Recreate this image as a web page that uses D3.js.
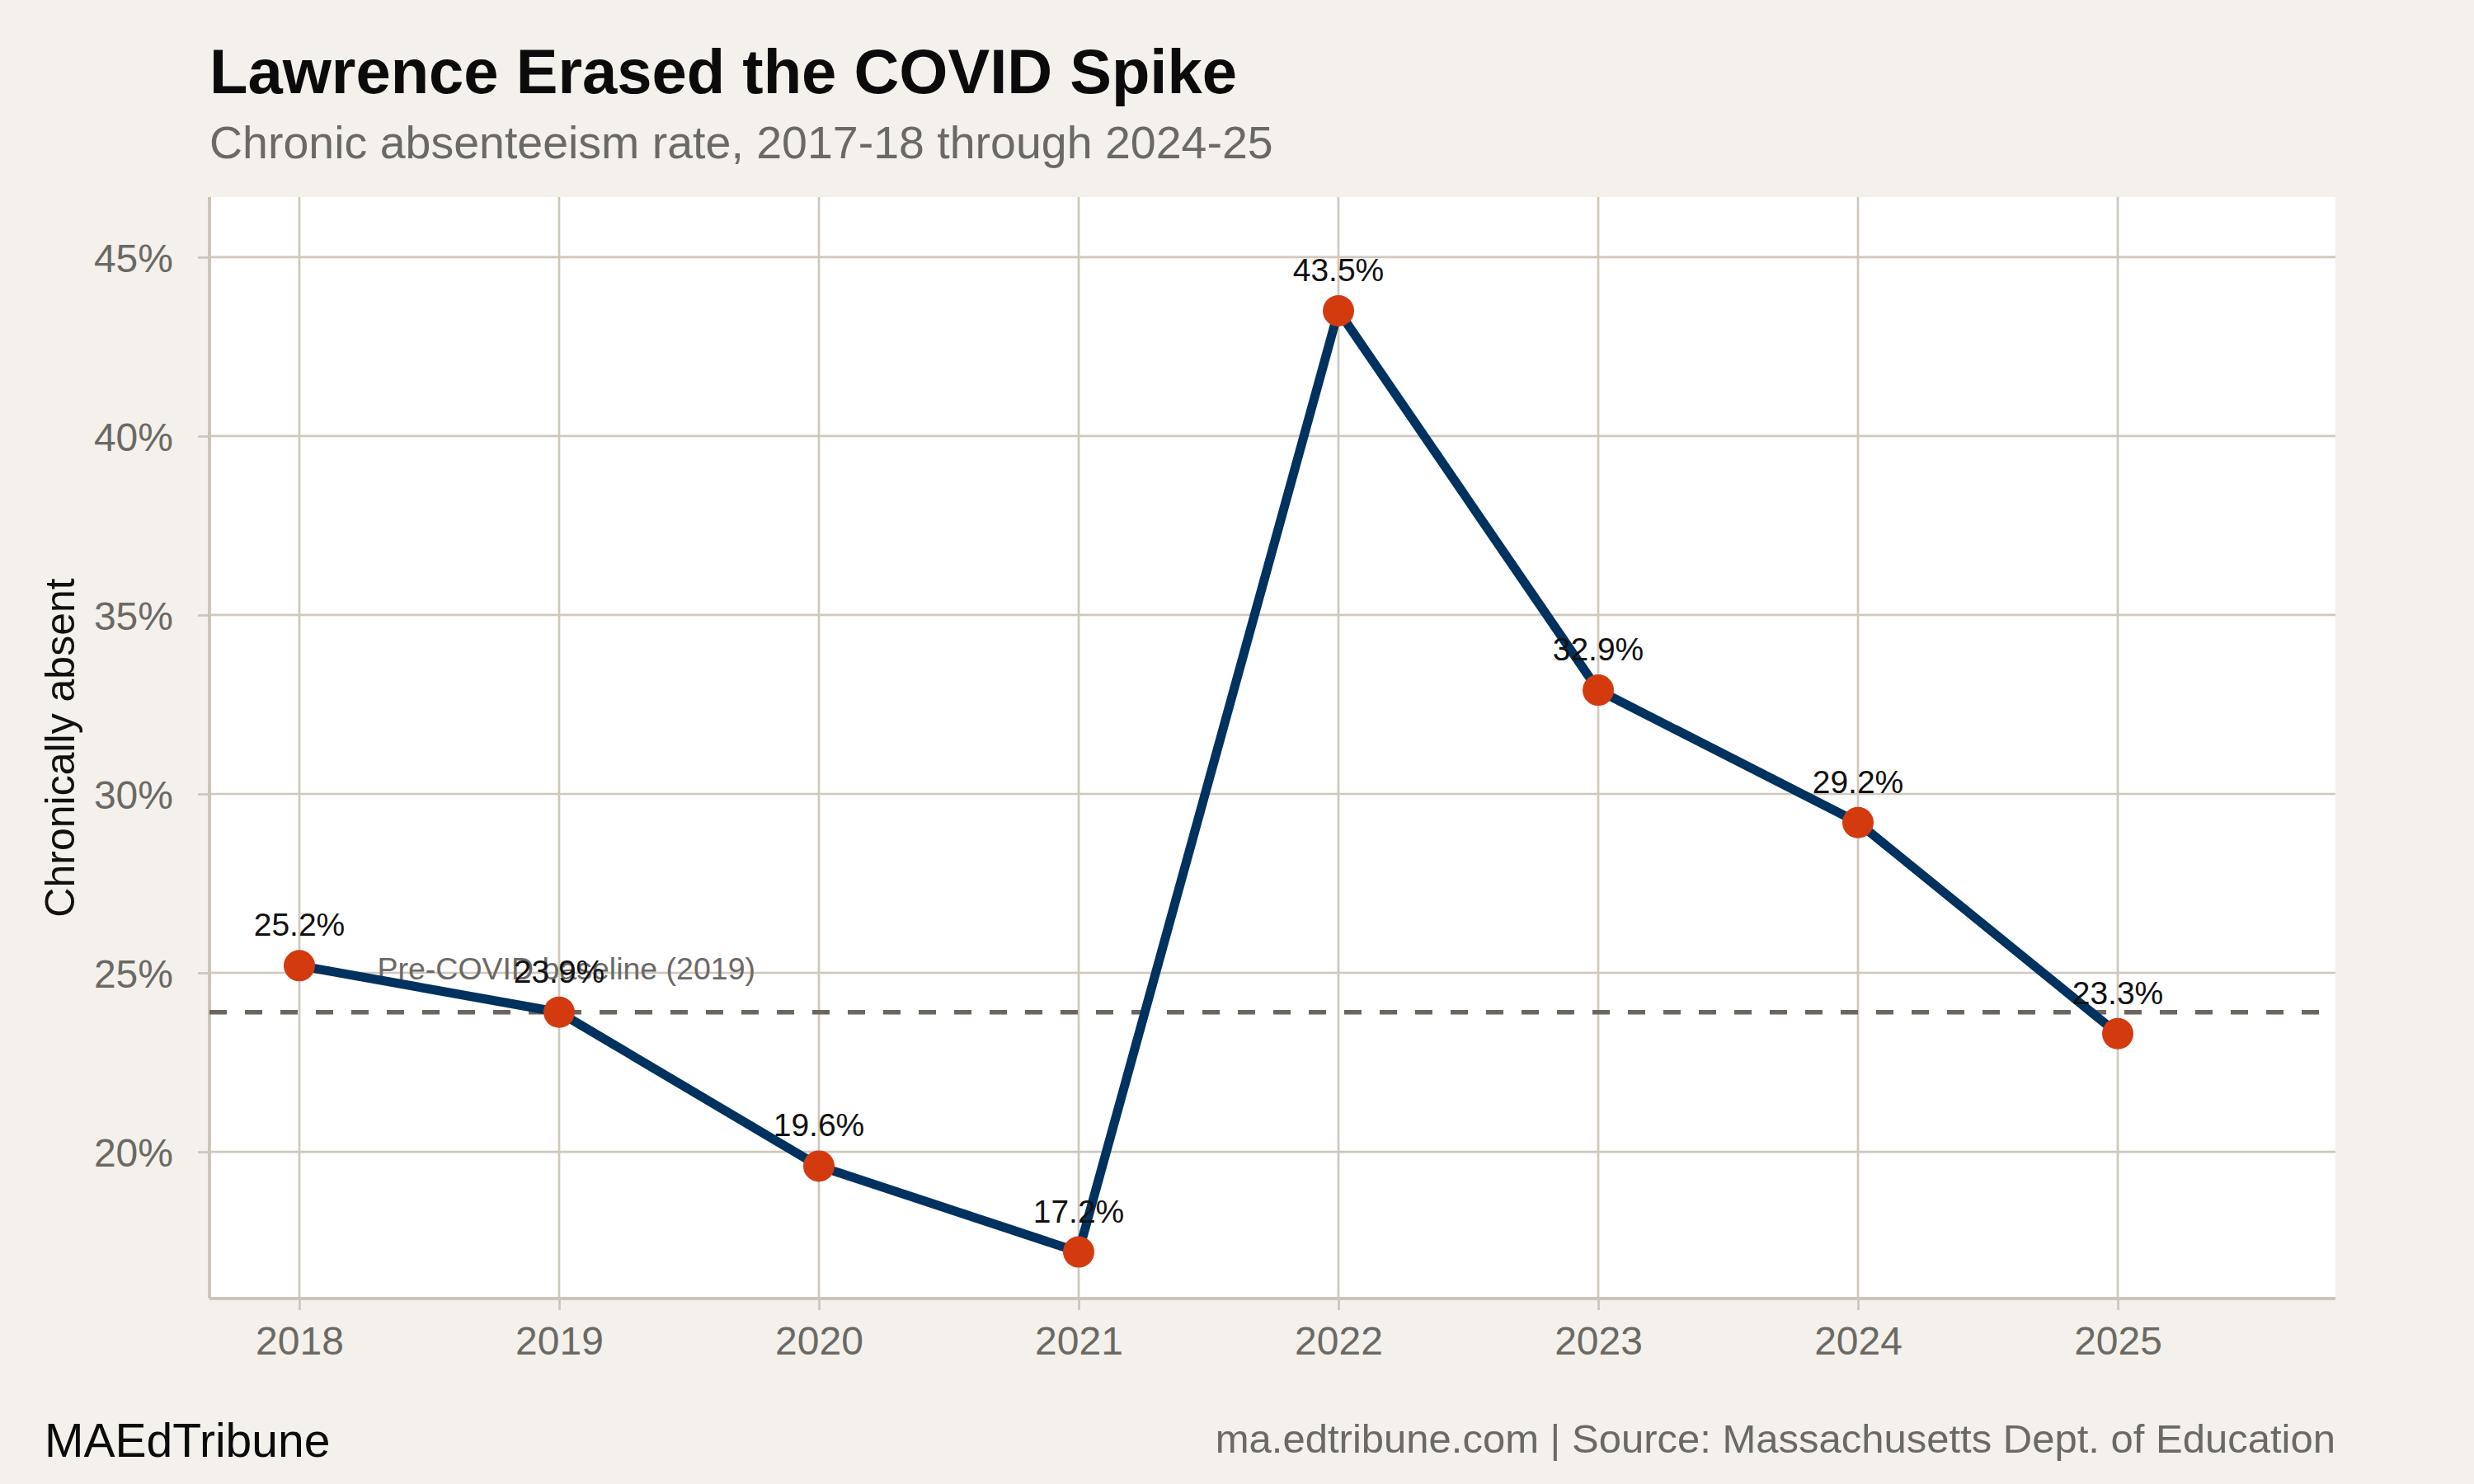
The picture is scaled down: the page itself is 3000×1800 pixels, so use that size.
<!DOCTYPE html>
<html>
<head>
<meta charset="utf-8">
<script src="https://cdn.jsdelivr.net/npm/d3@7"></script>
<style>
  body { margin: 0; background: #f4f1ec; }
  svg { display: block; font-family: "Liberation Sans", Arial, sans-serif; }
</style>
</head>
<body>
<svg id="chart" width="3000" height="1800"></svg>
<script>
// school years (spring year) and chronic absenteeism rate, %
var years = [2018, 2019, 2020, 2021, 2022, 2023, 2024, 2025];
var rates = [25.2, 23.9, 19.6, 17.2, 43.5, 32.9, 29.2, 23.3];
var yTicks = [20, 25, 30, 35, 40, 45];
var baseline = 23.9;
var baselineLabel = "Pre-COVID baseline (2019)";

var title = "Lawrence Erased the COVID Spike";
var subtitle = "Chronic absenteeism rate, 2017-18 through 2024-25";
var yTitle = "Chronically absent";
var brand = "MAEdTribune";
var source = "ma.edtribune.com | Source: Massachusetts Dept. of Education";

var svg = d3.select("#chart");
var W = 3000, H = 1800;
var margin = {top: 239, right: 168, bottom: 225, left: 254};
var iw = W - margin.left - margin.right;
var ih = H - margin.top - margin.bottom;

var gridCol = "#cfc8bd";
var axisCol = "#cbc5bb";
var grayText = "#6b6964";

svg.append("rect").attr("width", W).attr("height", H).attr("fill", "#f4f1ec");

var x = d3.scaleLinear().domain([2017.654, 2025.838]).range([0, iw]);
var y = d3.scaleLinear().domain([15.9, 46.68]).range([ih, 0]);

var g = svg.append("g").attr("transform", "translate(" + margin.left + "," + margin.top + ")");

g.append("rect").attr("width", iw).attr("height", ih).attr("fill", "#ffffff");

// grid
g.append("g").selectAll("line").data(yTicks).enter().append("line")
  .attr("x1", 0).attr("x2", iw)
  .attr("y1", function(d) { return y(d); })
  .attr("y2", function(d) { return y(d); })
  .attr("stroke", gridCol).attr("stroke-width", 2.7);
g.append("g").selectAll("line").data(years).enter().append("line")
  .attr("y1", 0).attr("y2", ih)
  .attr("x1", function(d) { return x(d); })
  .attr("x2", function(d) { return x(d); })
  .attr("stroke", gridCol).attr("stroke-width", 2.7);

// axes
var xAxis = g.append("g").attr("transform", "translate(0," + ih + ")")
  .call(d3.axisBottom(x).tickValues(years).tickFormat(d3.format("d")).tickSize(14).tickPadding(20));
var yAxis = g.append("g")
  .call(d3.axisLeft(y).tickValues(yTicks).tickFormat(function(d) { return d + "%"; }).tickSize(14).tickPadding(30));

[xAxis, yAxis].forEach(function(a) {
  a.select(".domain").attr("stroke", axisCol).attr("stroke-width", 4);
  a.selectAll(".tick line").attr("stroke", axisCol).attr("stroke-width", 2.7);
  a.selectAll(".tick text").attr("fill", grayText).style("font-size", "48px")
    .style("font-family", "Liberation Sans, Arial, sans-serif");
});
xAxis.select(".domain").attr("d", "M0,0H" + iw);
yAxis.select(".domain").attr("d", "M0,0V" + ih);
yAxis.selectAll(".tick text").attr("dy", "0.36em");

// baseline
g.append("line")
  .attr("x1", 0).attr("x2", iw)
  .attr("y1", y(baseline)).attr("y2", y(baseline))
  .attr("stroke", "#6b6760").attr("stroke-width", 5.3)
  .attr("stroke-dasharray", "21,22");

g.append("text")
  .attr("x", x(2018.3)).attr("y", y(24.82))
  .attr("fill", grayText).style("font-size", "37.5px")
  .text(baselineLabel);

// line + points
var data = years.map(function(d, i) { return {year: d, rate: rates[i]}; });
var line = d3.line().x(function(d) { return x(d.year); }).y(function(d) { return y(d.rate); });

g.append("path").datum(data)
  .attr("d", line)
  .attr("fill", "none")
  .attr("stroke", "#00325f")
  .attr("stroke-width", 11)
  .attr("stroke-linejoin", "round");

g.append("g").selectAll("circle").data(data).enter().append("circle")
  .attr("cx", function(d) { return x(d.year); })
  .attr("cy", function(d) { return y(d.rate); })
  .attr("r", 19)
  .attr("fill", "#d33b0f");

g.append("g").selectAll("text").data(data).enter().append("text")
  .attr("x", function(d) { return x(d.year); })
  .attr("y", function(d) { return y(d.rate) - 36; })
  .attr("text-anchor", "middle")
  .attr("fill", "#111")
  .style("font-size", "39px")
  .text(function(d) { return d.rate.toFixed(1) + "%"; });

// y title
svg.append("text")
  .attr("transform", "translate(90," + (margin.top + ih / 2) + ") rotate(-90)")
  .attr("text-anchor", "middle")
  .attr("fill", "#111")
  .style("font-size", "50px")
  .text(yTitle);

// titles
svg.append("text").attr("x", margin.left).attr("y", 113)
  .attr("fill", "#0b0b0b").style("font-size", "76px").style("font-weight", "bold")
  .text(title);
svg.append("text").attr("x", margin.left).attr("y", 192)
  .attr("fill", grayText).style("font-size", "55.5px")
  .text(subtitle);

// footer
svg.append("text").attr("x", 54).attr("y", 1767)
  .attr("fill", "#0b0b0b").style("font-size", "57px")
  .text(brand);
svg.append("text").attr("x", margin.left + iw).attr("y", 1762)
  .attr("text-anchor", "end")
  .attr("fill", grayText).style("font-size", "49px")
  .text(source);
</script>
</body>
</html>
